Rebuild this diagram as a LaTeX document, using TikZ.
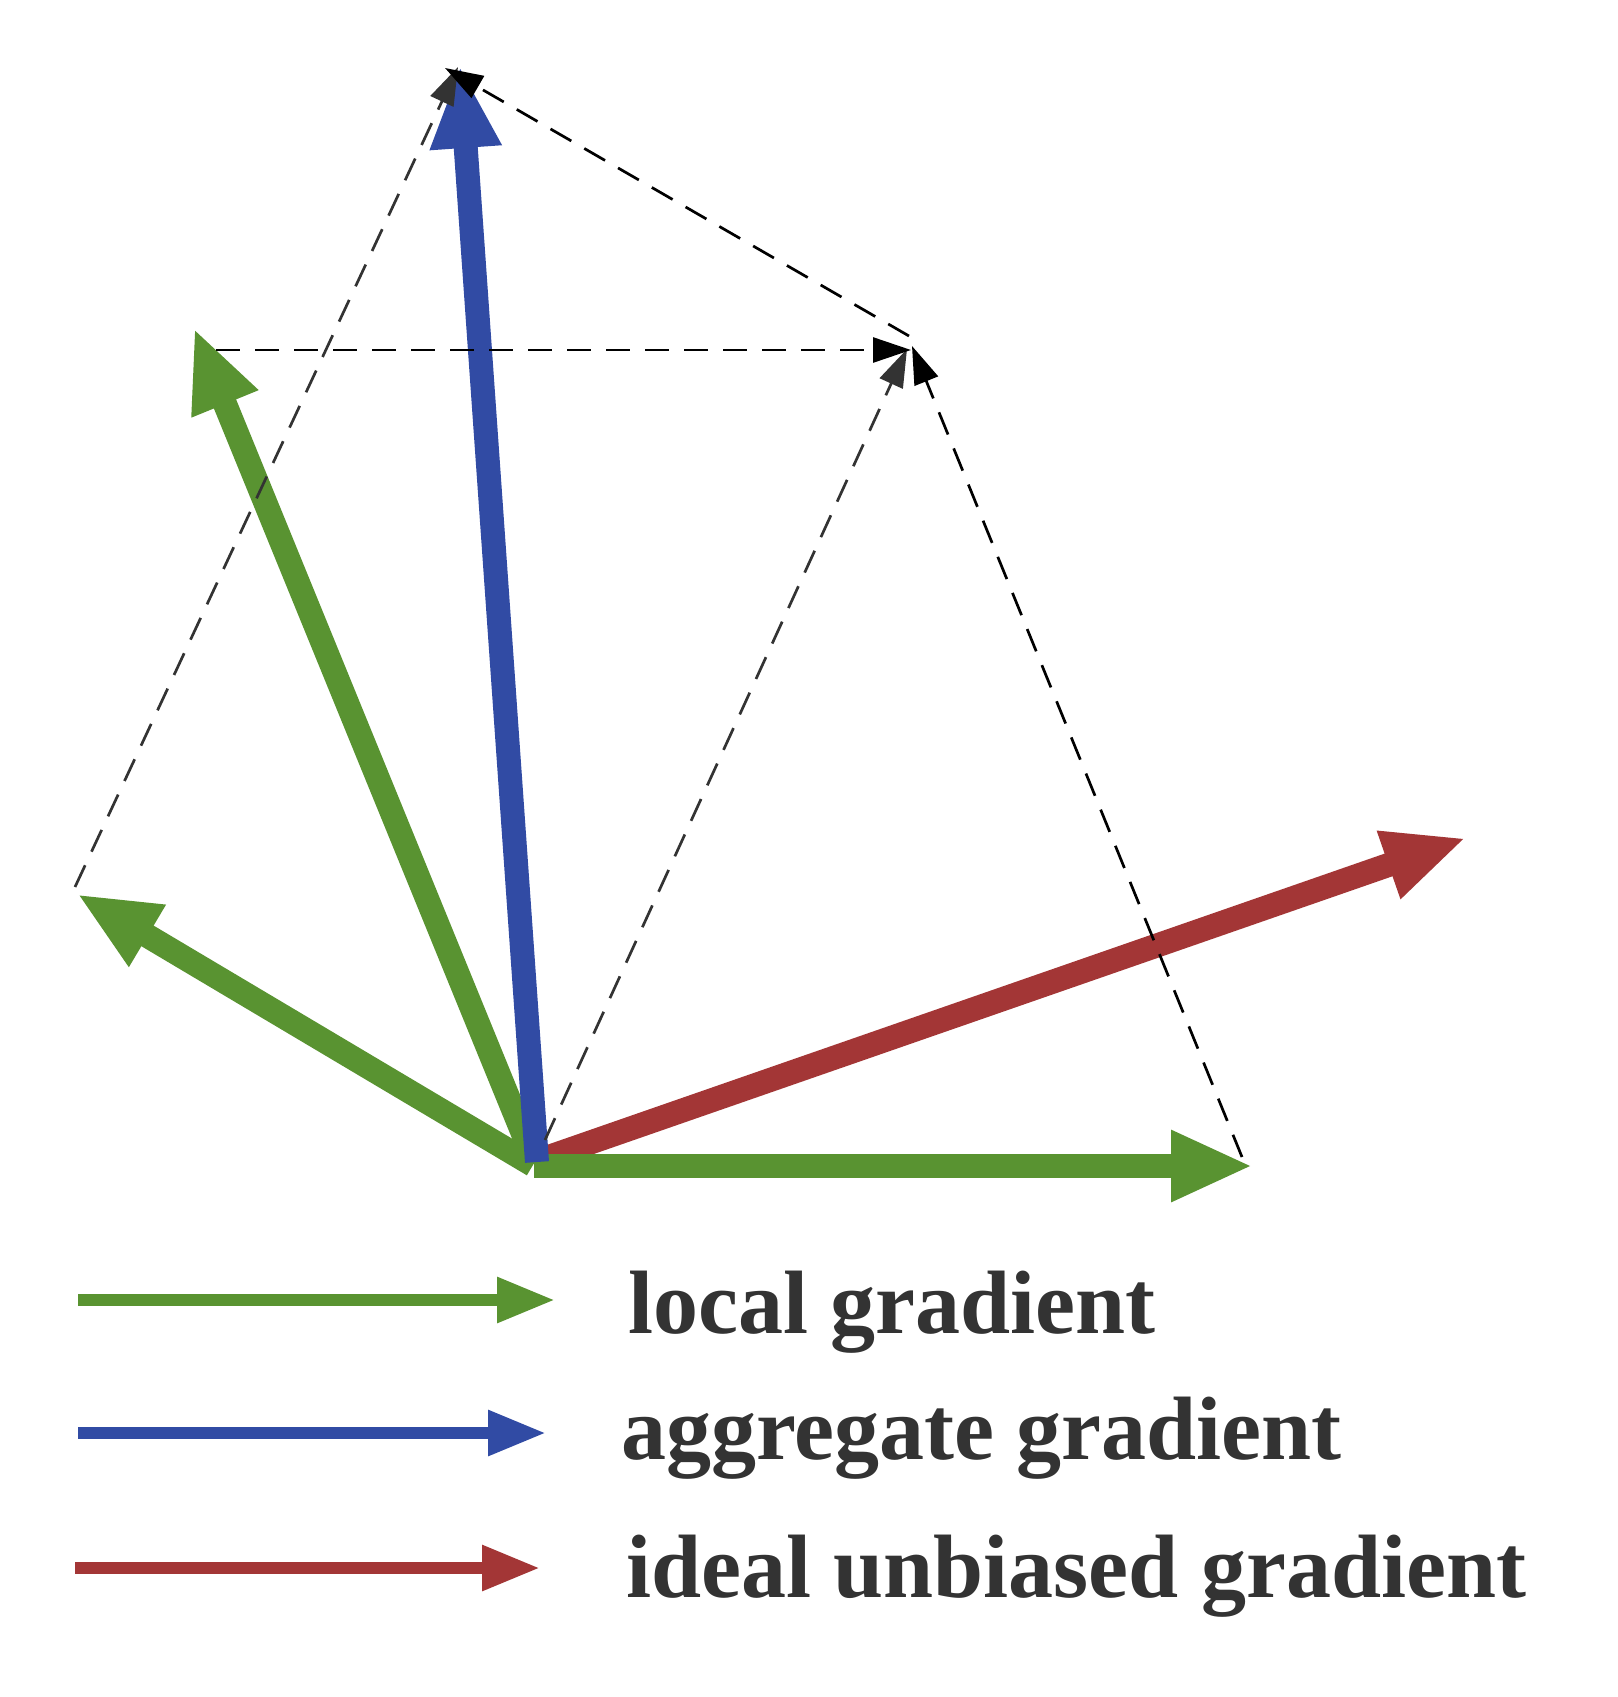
\documentclass[tikz,border=0pt]{standalone}
\usepackage{fontspec}
\setmainfont{Liberation Serif}
\usetikzlibrary{arrows.meta}
\definecolor{ggreen}{RGB}{89,147,49}
\definecolor{gblue}{RGB}{49,75,164}
\definecolor{gred}{RGB}{163,54,54}
\definecolor{txt}{RGB}{51,51,51}
\begin{document}
\begin{tikzpicture}[x=1pt,y=-1pt,
  vec/.style={line width=24pt, -{Triangle[length=82pt,width=66pt]}},
  leg/.style={line width=12pt, -{Triangle[length=58pt,width=43pt]}},
  guide/.style={line width=2.7pt, dash pattern=on 24pt off 15pt, -{Triangle[length=38pt,width=25pt]}},
  lbl/.style={anchor=base west, inner sep=0pt, text=txt, font=\fontsize{90}{100}\selectfont\bfseries}]
\useasboundingbox (0,0) rectangle (1617,1697);

% origins
\coordinate (oL) at (533,1165);
\coordinate (oU) at (535,1163);
\coordinate (oB) at (537,1162);
\coordinate (oR) at (540,1160);
\coordinate (oH) at (534,1166);
% tips
\coordinate (tL) at (77,894);
\coordinate (tU) at (194,328);
\coordinate (tB) at (460,66);
\coordinate (tR) at (1466,838);
\coordinate (tH) at (1253,1166);
% guide points
\coordinate (gL) at (75,887);
\coordinate (T1) at (458,67);
\coordinate (gO) at (545,1140);
\coordinate (M1) at (907,349);
\coordinate (gH) at (1242,1157);
\coordinate (M2) at (912,346);
\coordinate (gU) at (216,350);
\coordinate (M3) at (911,350);
\coordinate (gM) at (909,336);
\coordinate (T2) at (445,68);

% main vectors
\draw[vec, gred] (oR) -- (tR);
\draw[vec, ggreen] (oL) -- (tL);
\draw[vec, ggreen] (oU) -- (tU);
\draw[vec, ggreen] (oH) -- (tH);
\draw[vec, gblue] (oB) -- (tB);

% guides
\draw[guide, txt] (gL) -- (T1);
\draw[guide, txt] (gO) -- (M1);
\draw[guide, black] (gH) -- (M2);
\draw[guide, black] (gU) -- (M3);
\draw[guide, black] (gM) -- (T2);

% legend
\coordinate (l1a) at (78,1300);
\coordinate (l1b) at (555,1300);
\coordinate (l2a) at (78,1433);
\coordinate (l2b) at (546,1433);
\coordinate (l3a) at (75,1568);
\coordinate (l3b) at (540,1568);
\draw[leg, ggreen] (l1a) -- (l1b);
\draw[leg, gblue] (l2a) -- (l2b);
\draw[leg, gred] (l3a) -- (l3b);
\node[lbl] (n1) at (628,1333) {local gradient};
\node[lbl] (n2) at (621,1459) {aggregate gradient};
\node[lbl] (n3) at (626,1597) {ideal unbiased gradient};
\end{tikzpicture}
\end{document}
